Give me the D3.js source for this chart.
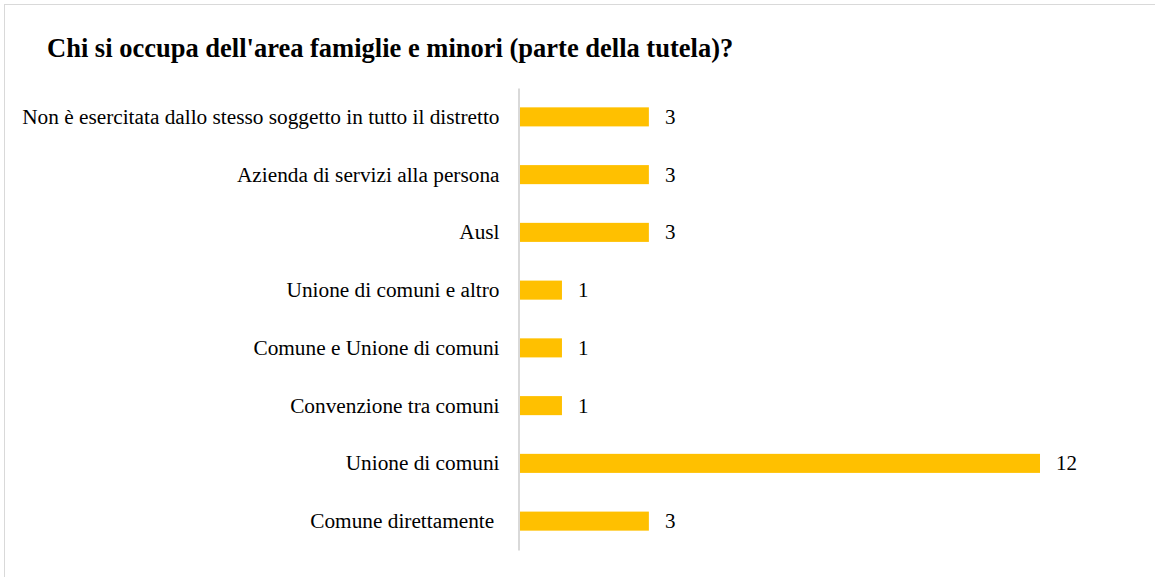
<!DOCTYPE html>
<html>
<head>
<meta charset="utf-8">
<script src="https://cdn.jsdelivr.net/npm/d3@7"></script>
<style>
  html, body { margin: 0; padding: 0; background: #fff; }
  svg { display: block; }
  text { font-family: "Liberation Serif", "Times New Roman", serif; }
</style>
</head>
<body>
<script>
// Categories listed top to bottom as they appear in the chart
const categories = [
  "Non è esercitata dallo stesso soggetto in tutto il distretto",
  "Azienda di servizi alla persona",
  "Ausl",
  "Unione di comuni e altro",
  "Comune e Unione di comuni",
  "Convenzione tra comuni",
  "Unione di comuni",
  "Comune direttamente "
];
const values = [3, 3, 3, 1, 1, 1, 12, 3];
const title = "Chi si occupa dell'area famiglie e minori (parte della tutela)?";

const W = 1155, H = 577;
const svg = d3.select("body").append("svg").attr("width", W).attr("height", H);

// Chart frame
svg.append("rect")
  .attr("x", 4.5).attr("y", 4.5)
  .attr("width", W + 10).attr("height", H + 10)
  .attr("fill", "#fff").attr("stroke", "#d9d9d9").attr("stroke-width", 1);

svg.append("text")
  .attr("x", 47).attr("y", 57)
  .attr("font-size", 26.5).attr("font-weight", "bold").attr("fill", "#000")
  .text(title);

const x0 = 518.5;
const x = d3.scaleLinear().domain([0, 12]).range([x0, 1040]);
const y = d3.scaleBand().domain(categories).range([88, 550]).paddingInner(0.67).paddingOuter(0.335);

const rows = svg.append("g").selectAll("g").data(categories).join("g");

rows.append("rect")
  .attr("x", x(0))
  .attr("y", d => y(d))
  .attr("width", (d, i) => x(values[i]) - x(0))
  .attr("height", y.bandwidth())
  .attr("fill", "#FFC000");

rows.append("text")
  .attr("x", (d, i) => x(values[i]) + 16)
  .attr("y", d => y(d) + y.bandwidth() / 2)
  .attr("dy", "0.33em")
  .attr("font-size", 21).attr("fill", "#000")
  .text((d, i) => values[i]);

// Category axis
const axis = svg.append("g")
  .attr("transform", `translate(${x0},0)`)
  .call(d3.axisLeft(y).tickSize(0).tickPadding(19));
axis.select(".domain").attr("stroke", "#d9d9d9").attr("stroke-width", 2);
axis.selectAll(".tick text")
  .attr("font-size", 21.3)
  .attr("fill", "#000")
  .attr("dy", "0.33em")
  .style("white-space", "pre")
  .attr("font-family", "Liberation Serif, Times New Roman, serif");
</script>
</body>
</html>
